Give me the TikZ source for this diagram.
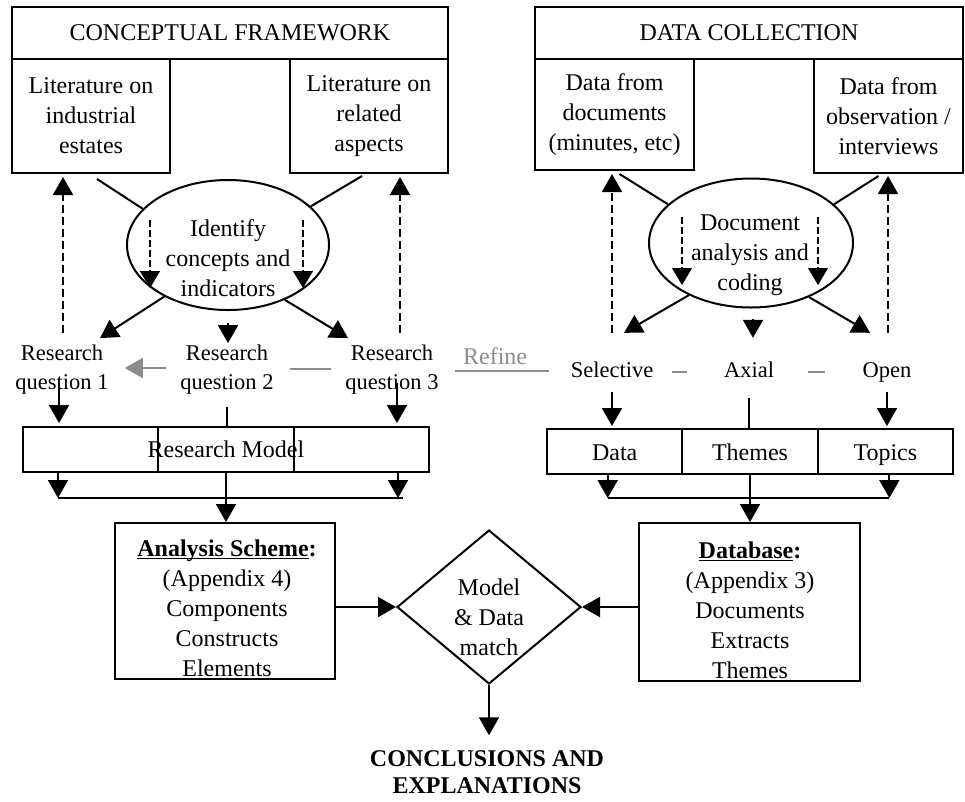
\documentclass[tikz,border=0pt]{standalone}
\usepackage{fontspec}
\setmainfont{Liberation Serif}
\usetikzlibrary{arrows.meta,shapes.geometric,calc}

\definecolor{refgray}{gray}{0.55}
% underline drawn as a rule under a word
\newsavebox\ulbox
\newcommand\ulword[1]{\sbox\ulbox{#1}\rlap{\rule[-3pt]{\wd\ulbox}{1.4pt}}\usebox\ulbox}

\begin{document}
\begin{tikzpicture}[x=1pt,y=-1pt,
  every node/.style={font=\fontsize{24}{30}\selectfont},
  box/.style={draw, line width=2pt, inner sep=0pt, align=center},
  txt/.style={inner sep=0pt, align=center},
  small/.style={font=\fontsize{22.5}{29}\selectfont},
  word/.style={small, inner sep=0pt, text height=15pt, text depth=5pt},
  cell/.style={box, minimum width=135.33pt, minimum height=45pt, text height=20pt, text depth=2pt},
  oval/.style={draw, ellipse, line width=2pt, inner sep=0pt},
  conn/.style={line width=2pt},
  divider/.style={line width=1.5pt},
  arr/.style={line width=2pt, -{Triangle[length=18pt,width=20pt]}},
  dasharr/.style={line width=2pt, dash pattern=on 8pt off 4pt, -{Triangle[length=18pt,width=20pt]}},
  indash/.style={line width=1.3pt, dash pattern=on 7pt off 3pt, -{Triangle[length=17pt,width=20pt]}},
  refl/.style={line width=2pt, draw=refgray},
]
\useasboundingbox (0,0) rectangle (965,801);

% ---------- conceptual framework ----------
\node[box, minimum width=436pt, minimum height=52pt] (cf) at (230,33) {CONCEPTUAL FRAMEWORK};
\node[box, minimum width=158pt, minimum height=114pt] (lit1) at (91,116) {Literature on\\industrial\\estates};
\node[box, minimum width=158pt, minimum height=114pt] (lit2) at (369,116) {Literature on\\related\\aspects};

\node[oval, minimum width=202pt, minimum height=130pt] (ell1) at (228,245) {};
\node[txt] (ell1t) at (228,258) {Identify\\concepts and\\indicators};

\node[txt, small] (rq1) at (62,370) {Research\\question 1};
\node[txt, small] (rq2) at (227,370) {Research\\question 2};
\node[txt, small] (rq3) at (392,370) {Research\\question 3};

% ---------- data collection ----------
\node[box, minimum width=428pt, minimum height=52pt] (dc) at (749,33) {DATA COLLECTION};
\node[box, minimum width=159pt, minimum height=111pt] (docs) at (614.5,114.5) {Data from\\documents\\(minutes, etc)};
\node[box, minimum width=149pt, minimum height=114pt] (obs) at (888.5,116) {Data from\\observation /\\interviews};

\node[oval, minimum width=204pt, minimum height=129pt] (ell2) at (751,243) {};
\node[txt] (ell2t) at (750,255) {Document\\analysis and\\coding};

\node[word] (sel) at (612,372) {Selective};
\node[word] (ax) at (749,372) {Axial};
\node[word] (op) at (887,372) {Open};

% ---------- models ----------
\node[box, minimum width=406pt, minimum height=45pt] (rm) at (226,449.5) {Research Model};
\draw[divider] ($(rm.north west)!1/3!(rm.north east)$) -- ($(rm.south west)!1/3!(rm.south east)$);
\draw[divider] ($(rm.north west)!2/3!(rm.north east)$) -- ($(rm.south west)!2/3!(rm.south east)$);

\node[cell] (cdata) at (614.67,451.5) {Data};
\node[cell] (cthem) at (750,451.5) {Themes};
\node[cell] (ctop) at (885.33,451.5) {Topics};

\node[box, minimum width=220pt, minimum height=156pt] (as) at (225,601) {};
\node[txt] (ast) at (227,608) {\textbf{\ulword{Analysis Scheme}:}\\(Appendix 4)\\Components\\Constructs\\Elements};

\node[box, minimum width=221pt, minimum height=158pt] (db) at (749.5,602) {};
\node[txt] (dbt) at (750,610) {\textbf{\ulword{Database}:}\\(Appendix 3)\\Documents\\Extracts\\Themes};

\node[draw, diamond, line width=2pt, aspect=1.2, inner sep=0pt, minimum width=184pt, minimum height=154pt] (dm) at (489,607) {};
\node[txt] (dmt) at (489,617) {Model\\\& Data\\match};

\node[txt, font=\fontsize{24}{27}\selectfont\bfseries] (con) at (487,772) {CONCLUSIONS AND\\EXPLANATIONS};

% ---------- links from sources into the ovals ----------
\draw[conn] ($(lit1.south)+(6,5)$) -- (ell1.157);
\draw[conn] ($(lit2.south)+(-7,2)$) -- (ell1.25);
\draw[conn] ($(docs.south)+(5,3)$) -- (ell2.155);
\draw[conn] ($(obs.south)+(-10,2)$) -- (ell2.25);

% dashed feedback arrows
\draw[dasharr] ($(rq1.north)+(1,-12)$) -- ($(rq1.north |- lit1.south)+(1,3)$);
\draw[dasharr] ($(rq3.north)+(8,-12)$) -- ($(rq3.north |- lit2.south)+(8,3)$);
\draw[dasharr] ($(sel.north)+(0,-29)$) -- ($(sel.north |- docs.south)+(0,3)$);
\draw[dasharr] ($(op.north)+(1,-29)$) -- ($(op.north |- obs.south)+(1,2)$);

\draw[indash] ($(ell1.center)+(-78,-25)$) -- ++(0,68);
\draw[indash] ($(ell1.center)+(75,-25)$) -- ++(0,68);
\draw[indash] ($(ell2.center)+(-69,-26)$) -- ++(0,68);
\draw[indash] ($(ell2.center)+(67,-26)$) -- ++(0,68);

% ovals to questions and coding levels
\draw[arr] (ell1.219) -- ($(rq1.north)+(38,-7)$);
\draw[arr] ($(ell1.south)+(0,12)$) -- ($(rq2.north)+(1,-2)$);
\draw[arr] (ell1.316) -- ($(rq3.north)+(-44,-7)$);
\draw[arr] (ell2.220) -- ($(sel.north)+(12,-29)$);
\draw[arr] ($(ell2.south)+(2,10)$) -- ($(ax.north)+(4,-24)$);
\draw[arr] (ell2.317) -- ($(op.north)+(-17,-29)$);

% refine line
\draw[refl, -{Triangle[length=18pt,width=20pt]}] ($(rq2.west)+(-14,-2)$) -- ($(rq1.east)+(16,-2)$);
\draw[refl] ($(rq2.east)+(16,-1)$) -- ($(rq3.west)+(-14,-1)$);
\draw[refl] ($(rq3.east)+(16,1)$) -- node[pos=0.43, above=5pt, inner sep=0pt, text=refgray] (refine) {Refine} ($(sel.west)+(-22,-1)$);
\draw[refl] ($(sel.east)+(19,0)$) -- ($(ax.west)+(-37,0)$);
\draw[refl] ($(ax.east)+(34,0)$) -- ($(op.west)+(-37,0)$);

% questions into research model
\draw[arr] ($(rq1.south)+(-3,-12)$) -- ($(rq1.south |- rm.north)+(-3,-3)$);
\draw[conn] ($(rq2.south)+(0,12)$) -- (rq2.south |- rm.north);
\draw[arr] ($(rq3.south)+(5,-12)$) -- ($(rq3.south |- rm.north)+(5,-3)$);

\draw[arr] ($(rm.south west)+(36,0)$) -- ++(0,25);
\draw[arr] ($(rm.south east)+(-32,0)$) -- ++(0,25);
\draw[conn] ($(rm.south west)+(36,25)$) -- ($(rm.south east)+(-27,25)$);
\draw[arr] (rm.south) -- (rm.south |- as.north);

% coding levels into data cells
\draw[arr] ($(sel.south)+(0,10)$) -- ($(sel.south |- cdata.north)+(0,-2)$);
\draw[conn] ($(ax.south)+(0,16)$) -- (ax.south |- cthem.north);
\draw[arr] ($(op.south)+(0,10)$) -- ($(op.south |- ctop.north)+(0,-2)$);

\draw[arr] ($(cdata.south)+(-7,0)$) -- ++(0,23);
\draw[arr] ($(ctop.south)+(4,0)$) -- ++(0,23);
\draw[conn] ($(cdata.south)+(-7,23)$) -- ($(ctop.south)+(4,23)$);
\draw[arr] (cthem.south) -- (cthem.south |- db.north);

% matching
\draw[arr] (as.east |- dm.west) -- (dm.west);
\draw[arr] (db.west |- dm.east) -- (dm.east);
\draw[arr] (dm.south) -- ($(dm.south |- con.north)+(0,-15)$);
\end{tikzpicture}
\end{document}
